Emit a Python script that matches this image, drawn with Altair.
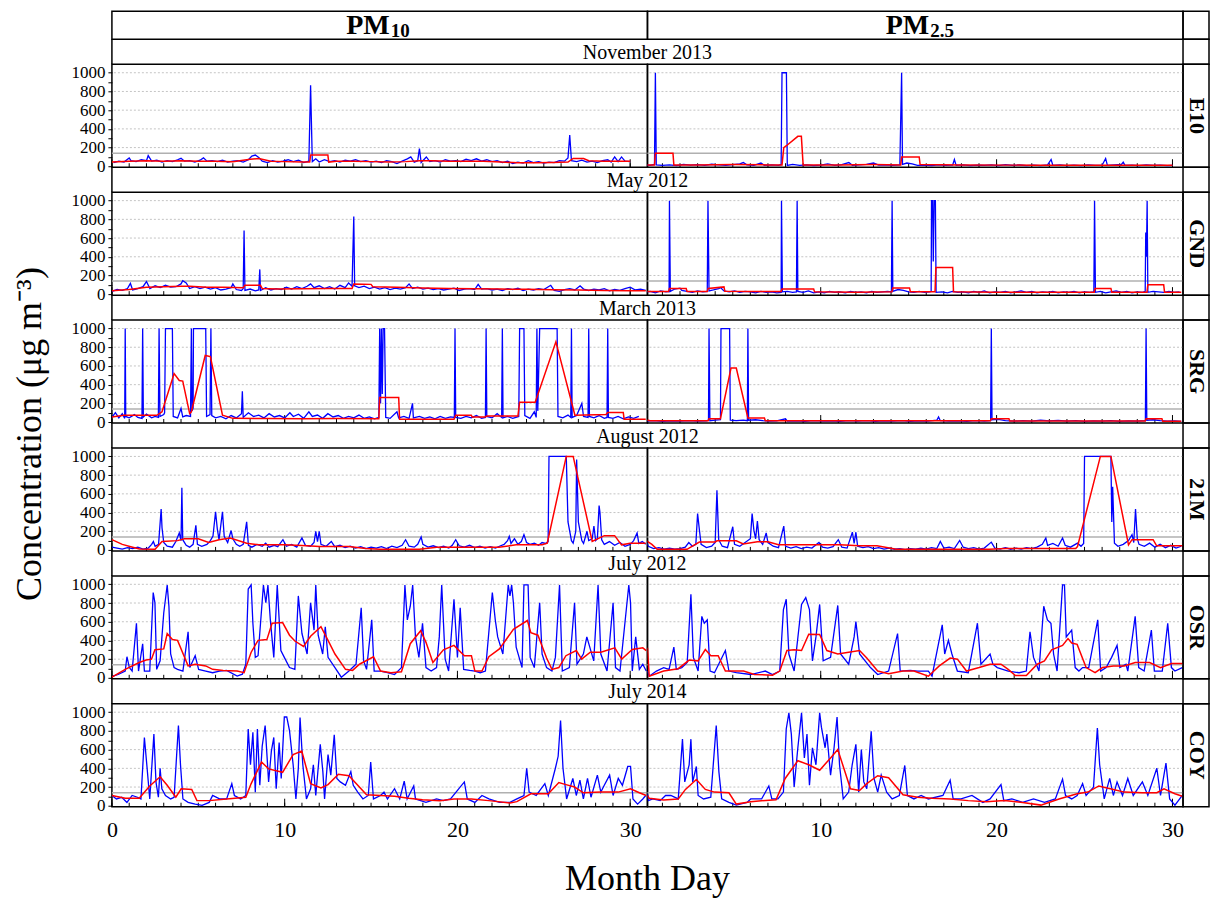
import altair as alt
import pandas as pd

FONT = "Liberation Serif"

SITES = ["E10", "GND", "SRG", "21M", "OSR", "COY"]
MONTHS = ["November 2013", "May 2012", "March 2013", "August 2012", "July 2012", "July 2014"]
POLLUTANTS = [("PM", "10"), ("PM", "2.5")]
Y_TICKS = list(range(0, 1001, 100))
Y_GRID = [200, 400, 600, 800, 1000]
REF_LEVEL = [140]
DAY_TICKS = list(range(0, 31))
MAJOR_DAY_TICKS = [0, 10, 20, 30]
X_LABELS_LEFT = [0, 10, 20, 30]
X_LABELS_RIGHT = [10, 20, 30]
X_TITLE = "Month Day"
Y_TITLE = "Concentration (μg m⁻³)"

# ---------------- data: (day, concentration) ----------------
E10_PM10_HOURLY = [(0.1,40),(0.4,55),(0.7,45),(1.0,90),(1.1,60),(1.4,50),(1.7,70),(2.0,60),(2.1,115),(2.3,55),(2.6,65),(2.9,45),(3.2,60),(3.5,50),(3.8,70),(4.0,85),(4.2,55),(4.5,60),(4.8,45),(5.1,65),(5.3,90),(5.5,55),(5.8,60),(6.1,50),(6.4,65),(6.7,45),(7.0,55),(7.3,60),(7.6,45),(7.9,70),(8.1,110),(8.3,120),(8.5,95),(8.7,55),(9.0,40),(9.3,60),(9.6,45),(9.9,55),(10.2,70),(10.5,50),(10.8,65),(11.1,40),(11.4,55),(11.5,865),(11.6,50),(11.8,80),(12.0,45),(12.3,70),(12.6,50),(12.9,60),(13.2,45),(13.5,65),(13.8,55),(14.1,70),(14.4,50),(14.7,60),(15.0,45),(15.3,55),(15.6,40),(15.9,60),(16.2,50),(16.5,30),(16.8,55),(17.1,80),(17.3,100),(17.5,45),(17.7,60),(17.8,190),(17.9,40),(18.2,100),(18.4,50),(18.7,60),(19.0,45),(19.3,70),(19.6,55),(19.9,60),(20.2,50),(20.5,75),(20.8,60),(21.1,80),(21.4,55),(21.7,70),(22.0,50),(22.3,60),(22.6,40),(22.9,55),(23.2,30),(23.5,45),(23.8,35),(24.1,60),(24.4,40),(24.7,50),(25.0,35),(25.3,45),(25.6,40),(25.9,60),(26.2,55),(26.4,90),(26.5,335),(26.6,60),(26.9,50),(27.2,65),(27.5,45),(27.8,55),(28.1,40),(28.4,60),(28.7,70),(28.9,45),(29.1,100),(29.3,50),(29.5,100),(29.7,55),(30.0,50)]
E10_PM10_DAILY = [(0,45),(1,55),(2,60),(3,55),(4,60),(5,55),(6,55),(7,50),(8,75),(8.5,84),(9.2,55),(10,50),(11,45),(11.45,45),(11.5,120),(12.5,120),(12.55,45),(13,55),(14,55),(15,50),(16,45),(17,50),(17.8,60),(18.5,60),(19.5,55),(20.5,55),(21.5,55),(22.5,45),(23.5,38),(24.5,38),(25.5,40),(26.4,45),(26.7,84),(27.3,84),(27.6,60),(28.5,55),(29.5,55),(30,55)]

E10_PM25_HOURLY = [(0.0,15),(0.3,10),(0.55,20),(0.6,1000),(0.65,15),(1.0,10),(1.4,15),(1.8,8),(2.2,20),(2.6,12),(3.0,18),(3.4,10),(3.8,22),(4.2,15),(4.6,10),(5.0,18),(5.4,25),(5.6,40),(5.8,15),(6.2,10),(6.6,35),(6.8,10),(7.2,15),(7.6,10),(7.75,20),(7.8,1000),(8.05,1000),(8.1,10),(8.4,20),(8.8,10),(9.2,15),(9.6,8),(10.0,12),(10.4,25),(10.8,10),(11.2,18),(11.6,40),(11.8,10),(12.2,15),(12.6,20),(13.0,35),(13.3,12),(13.7,15),(14.1,10),(14.5,15),(14.6,1000),(14.65,20),(14.9,35),(15.2,25),(15.5,10),(15.9,12),(16.3,8),(16.7,15),(17.1,10),(17.5,12),(17.6,73),(17.7,10),(18.1,15),(18.5,8),(18.9,12),(19.3,10),(19.7,15),(20.1,8),(20.5,18),(20.9,10),(21.3,14),(21.7,8),(22.1,12),(22.5,8),(22.9,15),(23.1,73),(23.2,10),(23.6,15),(24.0,8),(24.4,12),(24.8,8),(25.2,15),(25.6,10),(26.0,12),(26.2,84),(26.3,10),(26.7,15),(27.1,20),(27.2,44),(27.3,10),(27.7,12),(28.1,8),(28.5,15),(28.9,10),(29.3,12),(29.7,8),(30.0,10)]
E10_PM25_DAILY = [(0,15),(0.55,15),(0.6,140),(1.6,140),(1.65,15),(3,15),(5,18),(7,15),(7.8,15),(7.9,200),(8.05,220),(8.7,320),(8.9,320),(9.0,15),(11,15),(13,18),(14.55,15),(14.6,100),(15.6,100),(15.65,18),(18,15),(22,12),(26,10),(30,10)]

GND_PM10_HOURLY = [(0.0,30),(0.3,50),(0.6,40),(0.9,60),(1.07,115),(1.2,45),(1.5,60),(1.8,80),(2.0,135),(2.2,60),(2.5,90),(2.8,70),(3.1,95),(3.4,75),(3.7,80),(4.0,110),(4.1,145),(4.3,120),(4.5,60),(4.8,80),(5.1,60),(5.4,75),(5.7,55),(6.0,70),(6.3,45),(6.6,55),(6.9,70),(7.0,110),(7.2,50),(7.5,40),(7.6,60),(7.65,680),(7.7,40),(8.0,55),(8.3,35),(8.5,45),(8.56,265),(8.6,40),(8.9,70),(9.2,45),(9.5,60),(9.8,50),(10.1,75),(10.4,55),(10.7,80),(11.0,60),(11.3,85),(11.5,110),(11.7,70),(12.0,90),(12.3,60),(12.6,80),(12.9,55),(13.2,95),(13.5,70),(13.7,120),(13.9,85),(14.0,830),(14.05,90),(14.3,70),(14.6,85),(14.9,60),(15.2,75),(15.5,55),(15.8,70),(16.1,50),(16.4,65),(16.7,55),(17.0,70),(17.2,110),(17.4,60),(17.7,75),(18.0,55),(18.3,65),(18.6,50),(18.9,60),(19.2,45),(19.5,55),(19.8,65),(20.1,40),(20.4,55),(20.7,60),(21.0,50),(21.2,105),(21.4,55),(21.7,60),(22.0,45),(22.3,55),(22.6,40),(22.9,60),(23.2,50),(23.5,65),(23.8,40),(24.1,55),(24.4,45),(24.7,60),(25.0,50),(25.4,95),(25.6,40),(25.9,30),(26.2,50),(26.5,60),(26.8,45),(27.1,90),(27.3,55),(27.6,40),(27.9,55),(28.2,45),(28.5,60),(28.8,35),(29.1,50),(29.4,40),(29.7,60),(30.0,75),(30.3,45),(30.6,55),(30.9,40)]
GND_PM10_DAILY = [(0,36),(1,50),(2,75),(3,80),(4,84),(4.5,84),(5.5,75),(6.5,73),(7.6,70),(7.7,95),(8.6,95),(8.7,60),(9.5,55),(11,58),(12.5,60),(13.9,62),(14.0,110),(15.0,105),(15.1,80),(16.5,73),(18,65),(19.5,60),(21,58),(22.5,55),(24,52),(25.5,48),(27,45),(28.5,40),(30,36),(30.9,36)]

GND_PM25_HOURLY = [(0.0,20),(0.3,30),(0.6,15),(0.9,35),(1.2,25),(1.38,30),(1.4,1000),(1.45,30),(1.7,55),(2.0,65),(2.1,40),(2.4,30),(2.7,20),(3.0,35),(3.3,25),(3.55,30),(3.59,1000),(3.65,35),(3.9,45),(4.2,60),(4.3,70),(4.5,35),(4.8,25),(5.1,35),(5.4,20),(5.7,30),(6.0,25),(6.3,15),(6.6,30),(6.9,20),(7.2,25),(7.5,15),(7.75,20),(7.77,1000),(7.82,25),(8.1,30),(8.4,20),(8.62,25),(8.66,1000),(8.7,30),(9.0,20),(9.3,35),(9.6,15),(9.9,25),(10.2,15),(10.5,30),(10.8,20),(11.1,25),(11.4,15),(11.7,30),(12.0,20),(12.3,25),(12.6,15),(12.9,30),(13.2,20),(13.5,25),(13.8,30),(14.02,25),(14.06,1000),(14.1,30),(14.4,50),(14.7,40),(15.0,25),(15.3,20),(15.6,30),(15.9,20),(16.2,25),(16.28,30),(16.3,1000),(16.36,1000),(16.4,350),(16.45,1000),(16.52,1000),(16.56,20),(16.9,25),(17.2,15),(17.5,30),(17.8,20),(18.1,25),(18.4,15),(18.7,30),(19.0,20),(19.3,35),(19.6,15),(19.9,25),(20.2,20),(20.5,30),(20.8,15),(21.1,25),(21.4,35),(21.7,20),(22.0,30),(22.3,15),(22.6,25),(22.9,20),(23.2,30),(23.5,15),(23.8,25),(24.1,20),(24.4,30),(24.7,15),(25.0,25),(25.3,20),(25.53,25),(25.57,1000),(25.62,20),(25.9,30),(26.2,15),(26.5,25),(26.8,35),(27.1,20),(27.4,30),(27.7,15),(28.0,25),(28.3,20),(28.45,30),(28.48,660),(28.52,400),(28.56,1000),(28.6,20),(28.9,30),(29.2,25),(29.5,20),(29.8,30),(30.1,20),(30.4,25)]
GND_PM25_DAILY = [(0,28),(1.35,28),(1.4,62),(2.35,62),(2.4,30),(3.55,30),(3.6,62),(4.5,78),(4.55,32),(6,30),(7.75,30),(7.8,55),(9.6,55),(9.65,25),(12,22),(14.05,25),(14.1,65),(15.05,65),(15.1,25),(16.5,25),(16.55,285),(17.5,285),(17.55,25),(20,22),(23,22),(25.55,22),(25.6,62),(26.5,62),(26.55,22),(28.55,22),(28.6,102),(29.5,102),(29.55,20),(30.5,20)]

SRG_PM10_HOURLY = [(0.0,50),(0.2,100),(0.4,45),(0.6,90),(0.74,40),(0.77,1000),(0.8,60),(1.0,45),(1.3,80),(1.5,50),(1.74,40),(1.78,1000),(1.82,55),(2.0,85),(2.3,45),(2.5,60),(2.69,50),(2.73,1000),(2.78,60),(3.0,80),(3.05,100),(3.1,1000),(3.5,1000),(3.55,60),(3.8,45),(4.0,146),(4.1,55),(4.3,70),(4.55,60),(4.6,1000),(4.64,120),(4.7,150),(4.72,1000),(5.43,1000),(5.48,60),(5.68,80),(5.73,1000),(5.78,70),(6.0,45),(6.3,60),(6.6,35),(6.9,70),(7.2,45),(7.5,90),(7.55,330),(7.6,50),(7.9,100),(8.2,60),(8.5,75),(8.8,45),(9.1,90),(9.4,55),(9.7,70),(10.0,45),(10.3,100),(10.5,60),(10.8,85),(11.1,40),(11.4,110),(11.6,60),(11.9,75),(12.2,40),(12.5,90),(12.8,55),(13.1,70),(13.4,40),(13.7,60),(14.0,45),(14.3,75),(14.6,40),(14.9,55),(15.2,35),(15.45,50),(15.5,1000),(15.55,200),(15.6,1000),(15.65,300),(15.7,1000),(15.78,1000),(15.85,50),(16.1,40),(16.5,110),(16.6,45),(16.9,60),(17.2,40),(17.4,200),(17.45,45),(17.8,60),(18.1,40),(18.4,55),(18.7,35),(19.0,60),(19.3,40),(19.6,55),(19.82,50),(19.86,1000),(19.9,50),(20.2,40),(20.5,60),(20.8,45),(21.1,70),(21.4,40),(21.62,50),(21.66,1000),(21.7,60),(22.0,45),(22.3,90),(22.56,50),(22.6,1000),(22.64,45),(22.9,60),(23.2,40),(23.55,60),(23.6,1000),(23.85,1000),(23.9,70),(24.2,40),(24.45,110),(24.56,50),(24.6,1000),(24.65,120),(24.76,1000),(25.77,1000),(25.82,60),(26.1,45),(26.4,75),(26.56,50),(26.6,1000),(26.64,50),(26.9,70),(27.2,200),(27.3,60),(27.56,50),(27.6,1000),(27.64,60),(27.9,45),(28.2,70),(28.5,40),(28.66,50),(28.7,1000),(28.74,50),(29.0,40),(29.3,60),(29.6,35),(29.9,55),(30.2,40),(30.5,60)]
SRG_PM10_DAILY = [(0,55),(0.7,73),(1.5,73),(2.6,73),(2.9,110),(3.6,518),(3.9,445),(4.1,438),(4.5,91),(4.6,110),(5.4,712),(5.7,700),(6.4,73),(7,40),(9,38),(11,35),(13,38),(15.45,36),(15.5,262),(16.6,262),(16.65,30),(18,30),(19.8,30),(19.9,73),(20.8,73),(20.85,55),(21.6,55),(21.7,65),(23.5,65),(23.6,212),(24.5,212),(25.7,858),(26.8,73),(28.6,80),(28.7,102),(29.6,102),(29.65,30),(30.9,30)]

SRG_PM25_HOURLY = [(0.0,10),(0.5,15),(1.0,8),(1.5,12),(2.0,10),(2.5,15),(3.0,10),(3.5,12),(3.62,20),(3.65,1000),(3.7,15),(4.0,20),(4.3,25),(4.33,1000),(4.82,1000),(4.86,20),(5.2,15),(5.6,20),(5.83,15),(5.86,1000),(5.9,20),(6.3,25),(6.7,15),(7.1,10),(7.5,12),(8.0,35),(8.1,10),(8.6,12),(9.1,8),(9.6,15),(10.1,10),(10.6,12),(11.1,8),(11.6,15),(12.1,10),(12.6,15),(13.1,8),(13.6,12),(14.1,10),(14.6,15),(15.1,8),(15.6,12),(16.1,10),(16.6,20),(16.7,55),(16.8,15),(17.3,10),(17.8,12),(18.3,8),(18.8,15),(19.3,10),(19.66,15),(19.7,1000),(19.74,25),(20.1,30),(20.5,15),(21.0,10),(21.5,15),(22.0,10),(22.5,20),(23.0,12),(23.5,18),(24.0,10),(24.5,15),(25.0,8),(25.5,12),(26.0,10),(26.5,15),(27.0,8),(27.5,12),(28.0,10),(28.46,15),(28.5,1000),(28.54,20),(28.9,25),(29.3,15),(29.7,10),(30.1,12),(30.5,8)]
SRG_PM25_DAILY = [(0,25),(0.3,15),(3.6,15),(3.65,36),(4.3,36),(4.9,577),(5.2,577),(5.86,44),(6.8,44),(6.85,15),(19.65,15),(19.7,36),(20.7,36),(20.75,12),(28.45,12),(28.5,36),(29.4,36),(29.45,10),(30.5,10)]

M21_PM10_HOURLY = [(0.0,30),(0.3,20),(0.6,10),(0.9,25),(1.2,15),(1.5,30),(1.8,10),(2.1,20),(2.3,60),(2.4,90),(2.5,40),(2.7,60),(2.85,438),(2.9,237),(3.0,80),(3.2,40),(3.5,30),(3.7,90),(3.9,182),(4.0,100),(4.05,664),(4.1,110),(4.3,50),(4.5,30),(4.7,60),(4.86,263),(4.95,60),(5.2,40),(5.5,60),(5.7,100),(5.85,150),(6.0,409),(6.1,226),(6.2,110),(6.4,409),(6.5,146),(6.7,80),(6.9,208),(7.0,120),(7.2,60),(7.4,40),(7.6,60),(7.8,300),(7.9,50),(8.1,30),(8.4,60),(8.7,40),(8.9,73),(9.1,30),(9.4,50),(9.6,35),(9.9,110),(10.1,40),(10.4,60),(10.7,30),(11.0,128),(11.2,50),(11.5,40),(11.7,80),(11.8,200),(11.9,90),(12.0,200),(12.1,60),(12.4,40),(12.7,91),(12.9,35),(13.2,50),(13.5,25),(13.8,40),(14.1,20),(14.4,35),(14.7,15),(15.0,30),(15.3,20),(15.6,35),(15.9,15),(16.2,40),(16.5,25),(16.8,50),(17.0,110),(17.2,40),(17.5,30),(17.7,60),(17.9,139),(18.0,60),(18.3,30),(18.6,45),(18.9,25),(19.2,40),(19.5,20),(19.7,50),(19.9,110),(20.1,45),(20.4,30),(20.7,50),(21.0,25),(21.3,40),(21.6,20),(21.9,35),(22.2,20),(22.5,45),(22.7,60),(22.9,100),(23.0,146),(23.1,70),(23.3,120),(23.5,60),(23.7,90),(23.85,164),(24.0,80),(24.2,60),(24.45,73),(24.7,50),(24.9,80),(25.1,70),(25.25,90),(25.3,1000),(26.3,1000),(26.4,300),(26.6,100),(26.7,73),(26.85,200),(26.9,967),(27.0,300),(27.2,100),(27.3,70),(27.5,200),(27.6,100),(27.8,120),(27.9,255),(28.0,100),(28.1,120),(28.2,474),(28.25,400),(28.35,110),(28.5,60),(28.8,90),(29.1,50),(29.4,80),(29.7,40),(30.0,60),(30.2,100),(30.4,182),(30.5,70),(30.7,90),(30.9,60)]
M21_PM10_DAILY = [(0,110),(0.6,60),(1.2,30),(1.6,10),(2.5,8),(2.9,91),(3.8,100),(4.2,120),(5.0,120),(5.6,80),(6.2,110),(6.85,128),(7.8,73),(8.5,55),(10.0,55),(11.3,45),(12,36),(13.7,36),(14.7,15),(15.5,8),(17.8,7),(18.8,30),(20.8,30),(22.4,30),(23.4,55),(24.9,55),(25.2,73),(26.3,1000),(26.7,1000),(27.8,91),(28.5,153),(29.1,153),(29.5,55),(30.0,73),(30.9,73)]

M21_PM25_HOURLY = [(0.0,128),(0.2,40),(0.5,15),(0.8,25),(1.1,10),(1.4,20),(1.7,8),(2.0,15),(2.3,30),(2.5,80),(2.7,40),(2.9,60),(3.0,390),(3.1,219),(3.2,60),(3.5,25),(3.8,40),(4.0,80),(4.1,638),(4.2,110),(4.4,40),(4.7,25),(5.0,248),(5.1,60),(5.4,40),(5.7,80),(6.0,120),(6.1,390),(6.2,212),(6.3,120),(6.4,310),(6.5,110),(6.7,60),(6.9,182),(7.0,80),(7.3,40),(7.6,25),(7.9,255),(8.0,40),(8.3,20),(8.6,35),(8.9,15),(9.2,30),(9.5,20),(9.9,80),(10.1,30),(10.4,20),(10.7,35),(11.0,110),(11.2,30),(11.5,20),(11.8,190),(11.9,70),(12.0,190),(12.1,40),(12.4,25),(12.7,35),(13.0,15),(13.3,25),(13.6,10),(13.9,20),(14.2,8),(14.5,15),(14.8,5),(15.1,15),(15.4,8),(15.7,20),(16.0,10),(16.3,25),(16.6,15),(16.8,91),(17.0,20),(17.3,30),(17.6,15),(17.9,102),(18.1,30),(18.4,15),(18.7,25),(19.0,10),(19.3,20),(19.7,84),(19.9,20),(20.2,10),(20.5,25),(20.8,8),(21.1,20),(21.4,10),(21.7,25),(22.0,15),(22.3,30),(22.6,60),(22.8,128),(22.9,50),(23.2,70),(23.5,40),(23.75,128),(23.9,50),(24.2,30),(24.6,73),(24.8,40),(24.95,70),(25.0,1000),(26.5,1000),(26.55,300),(26.6,675),(26.7,73),(26.9,40),(27.2,60),(27.5,100),(27.7,164),(27.8,80),(27.9,438),(28.0,120),(28.1,60),(28.4,40),(28.7,73),(29.0,30),(29.3,60),(29.6,25),(29.9,50),(30.2,20),(30.5,40)]
M21_PM25_DAILY = [(0,110),(0.4,60),(0.7,7),(2.4,7),(3.1,84),(4.0,84),(4.1,98),(5.2,98),(5.6,65),(6.4,88),(7.0,88),(7.6,55),(11.1,55),(12.2,44),(13.2,44),(14.3,7),(19.6,7),(20.5,15),(24.5,15),(24.6,36),(25.9,1000),(26.5,1000),(27.5,55),(27.7,110),(28.9,110),(29.1,44),(30.6,44)]

OSR_PM10_HOURLY = [(0.06,18),(0.36,36),(0.77,73),(0.87,226),(1.01,110),(1.17,73),(1.42,584),(1.54,73),(1.78,365),(1.88,73),(2.19,73),(2.39,912),(2.49,803),(2.59,91),(2.79,182),(3.0,693),(3.2,993),(3.3,766),(3.4,255),(3.6,110),(3.8,91),(4.11,73),(4.41,493),(4.51,110),(4.82,237),(5.02,91),(5.43,73),(5.83,55),(6.23,73),(6.64,80),(7.25,20),(7.55,40),(7.75,146),(7.89,949),(8.06,993),(8.16,584),(8.3,219),(8.46,237),(8.77,993),(8.91,803),(9.03,993),(9.17,620),(9.37,219),(9.57,993),(9.78,292),(9.98,219),(10.28,110),(10.59,91),(10.79,876),(11.0,474),(11.3,255),(11.5,803),(11.7,511),(11.8,993),(11.94,456),(12.2,255),(12.35,547),(12.51,219),(12.91,110),(13.28,7),(13.72,73),(14.13,146),(14.43,748),(14.57,182),(14.74,91),(15.04,620),(15.18,73),(15.55,73),(15.95,55),(16.36,36),(16.76,110),(16.96,993),(17.1,620),(17.27,766),(17.41,993),(17.57,438),(17.77,219),(17.98,584),(18.18,110),(18.48,73),(18.79,110),(18.95,438),(19.09,993),(19.29,200),(19.49,73),(19.8,840),(20.0,219),(20.16,748),(20.36,91),(20.71,80),(21.01,73),(21.32,55),(21.62,73),(22.02,912),(22.19,620),(22.33,438),(22.63,255),(22.94,993),(23.04,876),(23.14,993),(23.24,803),(23.4,328),(23.74,110),(23.85,993),(24.09,993),(24.21,219),(24.45,110),(24.76,803),(24.9,255),(25.16,110),(25.47,73),(25.67,219),(25.91,993),(26.07,73),(26.48,110),(26.78,803),(26.92,146),(27.29,255),(27.49,438),(27.89,182),(28.14,993),(28.3,255),(28.66,73),(29.01,803),(29.15,110),(29.41,73),(29.92,993),(30.02,803),(30.12,73),(30.32,438),(30.53,91),(30.73,146),(30.93,73)]
OSR_PM10_DAILY = [(0,7),(0.77,91),(1.58,164),(1.98,190),(2.29,200),(2.49,300),(3.0,310),(3.2,474),(3.5,409),(3.8,401),(4.41,128),(4.82,146),(5.43,128),(5.83,91),(6.44,80),(7.25,73),(7.65,55),(8.06,274),(8.46,401),(8.97,409),(9.27,584),(9.88,591),(10.28,456),(10.59,394),(11.09,336),(11.5,445),(12.1,547),(12.51,401),(12.91,255),(13.52,91),(13.93,80),(14.33,146),(15.14,226),(15.55,73),(16.15,55),(16.76,65),(17.27,365),(17.87,504),(18.18,380),(18.58,164),(19.19,300),(19.8,347),(20.4,237),(20.81,237),(21.01,73),(21.42,73),(21.82,226),(22.43,310),(23.24,518),(24.05,613),(24.25,482),(24.66,456),(25.16,212),(25.47,91),(25.87,110),(26.28,237),(26.88,292),(27.19,200),(27.69,274),(28.3,274),(29.11,321),(29.51,200),(30.12,303),(30.73,321),(30.93,292)]

OSR_PM25_HOURLY = [(0.15,73),(0.25,18),(0.66,73),(1.07,110),(1.38,91),(1.65,328),(1.79,91),(2.1,110),(2.41,164),(2.62,894),(2.76,219),(3.03,73),(3.24,657),(3.38,584),(3.55,620),(3.71,73),(3.96,55),(4.58,292),(4.78,73),(5.2,55),(6.02,36),(6.85,73),(7.26,36),(7.67,73),(7.88,730),(8.04,840),(8.19,255),(8.49,73),(8.91,785),(9.15,858),(9.36,730),(9.53,182),(9.73,438),(9.94,785),(10.14,182),(10.56,219),(10.97,774),(11.13,255),(11.59,146),(11.9,438),(12.0,602),(12.21,255),(12.83,110),(13.24,36),(13.86,73),(14.37,474),(14.52,73),(15.09,80),(15.51,73),(16.12,73),(16.33,18),(16.91,566),(17.05,255),(17.26,401),(17.46,255),(17.77,73),(18.39,55),(18.91,584),(19.11,146),(19.63,255),(19.79,146),(20.04,110),(20.66,73),(21.28,55),(21.69,73),(21.9,493),(22.1,219),(22.41,73),(22.68,766),(22.89,620),(23.09,584),(23.24,255),(23.44,73),(23.75,993),(23.86,993),(23.96,438),(24.27,511),(24.47,110),(24.68,73),(24.89,110),(25.24,110),(25.75,620),(25.92,73),(26.23,110),(26.54,219),(26.85,347),(27.01,110),(27.36,146),(27.46,73),(27.88,657),(28.08,110),(28.39,73),(28.8,511),(28.97,73),(29.42,73),(29.73,584),(29.94,110),(30.14,73),(30.56,110)]
OSR_PM25_DAILY = [(0.15,321),(0.25,18),(1.07,73),(1.9,98),(2.52,190),(3.03,182),(3.44,303),(3.75,237),(4.17,237),(4.58,73),(5.61,73),(6.23,36),(7.26,29),(7.67,73),(8.08,292),(8.49,300),(8.91,292),(9.32,467),(9.94,463),(10.35,292),(10.97,255),(11.59,274),(12.21,292),(12.62,212),(13.24,73),(13.86,44),(14.68,73),(15.3,73),(16.12,18),(16.74,128),(17.36,212),(17.77,200),(18.29,73),(19.01,110),(19.63,146),(20.25,146),(20.66,91),(21.07,25),(21.69,25),(22.31,146),(22.72,182),(23.13,300),(23.75,347),(24.06,420),(24.27,372),(24.58,358),(25.09,110),(25.6,55),(26.02,110),(26.64,128),(27.26,128),(27.88,164),(28.7,164),(29.32,110),(29.94,153),(30.6,153)]

COY_PM10_HOURLY = [(0.0,110),(0.26,73),(0.57,91),(0.87,36),(1.17,110),(1.48,91),(1.68,73),(1.88,730),(2.02,438),(2.19,73),(2.43,766),(2.55,255),(2.69,91),(2.79,401),(2.89,182),(3.1,110),(3.4,73),(3.6,91),(3.85,858),(3.97,438),(4.11,73),(4.41,36),(4.82,18),(5.22,5),(5.63,36),(5.83,110),(6.23,73),(6.64,73),(6.94,237),(7.09,110),(7.45,73),(7.75,110),(7.89,821),(8.02,438),(8.16,785),(8.3,146),(8.42,821),(8.56,219),(8.7,639),(8.87,858),(9.07,255),(9.23,584),(9.37,730),(9.51,182),(9.68,675),(9.8,292),(9.98,949),(10.12,949),(10.28,803),(10.49,438),(10.65,73),(10.79,401),(10.89,942),(11.05,438),(11.26,73),(11.5,182),(11.66,438),(11.8,110),(12.06,657),(12.21,365),(12.31,73),(12.51,547),(12.67,328),(12.87,759),(13.02,292),(13.22,255),(13.52,219),(13.83,365),(13.97,219),(14.23,146),(14.53,73),(14.84,110),(14.98,467),(15.14,73),(15.55,110),(15.75,146),(15.95,73),(16.36,182),(16.66,73),(16.92,263),(17.09,73),(17.47,212),(17.57,73),(18.18,36),(18.79,73),(19.19,55),(19.6,73),(20.4,255),(20.57,73),(21.01,36),(21.42,110),(21.82,73),(22.43,36),(23.04,36),(23.44,73),(23.85,110),(24.01,401),(24.15,146),(24.56,110),(25.06,237),(25.26,110),(25.67,401),(25.83,529),(25.97,912),(26.11,401),(26.32,73),(26.68,292),(26.88,110),(27.09,274),(27.29,73),(27.53,292),(27.73,91),(28.1,328),(28.3,146),(28.5,219),(28.81,328),(29.01,110),(29.31,292),(29.55,219),(29.86,420),(30.02,420),(30.16,73),(30.43,18),(30.73,73),(30.9,110)]
COY_PM10_DAILY = [(0,110),(0.77,80),(1.58,80),(2.19,212),(2.79,310),(3.2,219),(3.7,91),(4.01,182),(4.62,175),(4.92,55),(5.63,55),(6.64,73),(7.75,91),(8.06,237),(8.66,467),(9.07,394),(9.88,358),(10.49,547),(10.99,584),(11.5,237),(12.1,190),(12.51,226),(13.11,336),(13.72,321),(14.74,117),(15.55,110),(16.36,102),(17.17,80),(17.98,65),(18.99,55),(19.8,73),(20.81,73),(21.82,55),(23.04,30),(23.44,44),(24.25,128),(25.26,128),(25.87,248),(26.28,226),(26.78,200),(27.29,139),(28.3,146),(29.31,146),(30.02,182),(30.53,139),(30.93,110)]

COY_PM25_HOURLY = [(0.15,128),(0.2,55),(0.45,73),(0.87,55),(1.18,110),(1.48,110),(1.9,73),(2.14,712),(2.27,255),(2.52,438),(2.62,712),(2.72,255),(2.93,420),(3.03,110),(3.34,73),(3.75,91),(4.06,858),(4.21,365),(4.37,73),(4.78,36),(5.2,7),(5.81,36),(6.02,73),(6.33,73),(6.64,73),(7.05,212),(7.22,73),(7.57,73),(7.88,146),(8.04,821),(8.19,993),(8.33,766),(8.49,200),(8.7,620),(8.91,993),(9.07,511),(9.22,766),(9.36,219),(9.53,620),(9.73,438),(9.94,993),(10.04,840),(10.25,620),(10.35,766),(10.56,328),(10.76,620),(10.93,949),(11.07,438),(11.28,73),(11.59,146),(11.79,438),(12.0,657),(12.16,146),(12.31,602),(12.45,255),(12.62,182),(12.87,796),(13.03,292),(13.24,146),(13.44,328),(13.75,146),(14.06,73),(14.47,110),(14.78,431),(14.93,110),(15.3,73),(15.71,110),(16.12,73),(16.95,110),(17.36,274),(17.53,73),(17.98,73),(18.6,110),(19.22,36),(19.63,73),(20.25,226),(20.41,55),(20.87,73),(21.48,36),(22.1,73),(22.72,36),(23.34,73),(23.75,285),(23.92,110),(24.27,73),(24.58,110),(24.89,237),(25.09,110),(25.51,200),(25.73,832),(25.86,438),(26.12,73),(26.43,292),(26.64,110),(26.85,255),(27.16,110),(27.46,292),(27.77,110),(28.29,255),(28.6,110),(29.11,401),(29.32,110),(29.63,456),(29.84,73),(30.14,7),(30.56,110)]
COY_PM25_DAILY = [(0.15,110),(0.25,80),(1.07,62),(1.9,73),(2.31,175),(2.93,281),(3.44,175),(3.96,146),(4.78,139),(5.2,18),(6.02,44),(7.46,65),(7.98,292),(8.7,482),(9.32,438),(9.94,380),(10.56,511),(10.97,602),(11.69,182),(12.21,164),(12.62,237),(13.24,321),(13.86,300),(14.68,117),(15.51,91),(16.33,80),(17.36,73),(18.39,55),(19.42,44),(20.45,55),(21.48,36),(22.52,7),(23.55,73),(24.58,128),(25.19,146),(25.81,212),(26.64,175),(27.26,146),(28.29,139),(29.11,139),(29.52,182),(30.14,128),(30.56,102)]

PANEL_DATA = [
    [(E10_PM10_HOURLY, E10_PM10_DAILY), (E10_PM25_HOURLY, E10_PM25_DAILY)],
    [(GND_PM10_HOURLY, GND_PM10_DAILY), (GND_PM25_HOURLY, GND_PM25_DAILY)],
    [(SRG_PM10_HOURLY, SRG_PM10_DAILY), (SRG_PM25_HOURLY, SRG_PM25_DAILY)],
    [(M21_PM10_HOURLY, M21_PM10_DAILY), (M21_PM25_HOURLY, M21_PM25_DAILY)],
    [(OSR_PM10_HOURLY, OSR_PM10_DAILY), (OSR_PM25_HOURLY, OSR_PM25_DAILY)],
    [(COY_PM10_HOURLY, COY_PM10_DAILY), (COY_PM25_HOURLY, COY_PM25_DAILY)],
]

# ---------------- layout ----------------
PW, PH = 536, 103      # panel
SH = 25                # month strip height
HH = 28                # header height
SW = 26                # site strip width
XT = 86                # x-title row height
XDOM_LEFT = [0, 31]
XDOM_RIGHT = [0.15, 30.6]
YDOM = [-10, 1090]
NOSTROKE = alt.ViewBackground(stroke="transparent")


def to_df(pairs):
    return pd.DataFrame({"day": [p[0] for p in pairs],
                         "conc": [p[1] for p in pairs],
                         "i": list(range(len(pairs)))})


def panel(hourly, daily, left, bottom):
    xs = alt.Scale(domain=XDOM_LEFT if left else XDOM_RIGHT, nice=False, zero=False)
    ys = alt.Scale(domain=YDOM, nice=False, zero=False)
    if bottom:
        xaxis = alt.Axis(values=X_LABELS_LEFT if left else X_LABELS_RIGHT, ticks=False,
                         domain=False, grid=False, title=None, labelFont=FONT,
                         labelFontSize=22, labelFontWeight="normal", labelPadding=13,
                         labelColor="black", labelFlush=False, labelOverlap=False, format="d")
    else:
        xaxis = None
    if left:
        yaxis = alt.Axis(values=Y_TICKS, labelExpr="datum.value % 200 == 0 ? datum.label : ''",
                         format="d", domain=False, grid=False, title=None, tickSize=4,
                         tickColor="black", labelFont=FONT, labelFontSize=17,
                         labelFontWeight="normal", labelPadding=3, labelColor="black",
                         labelOverlap=False, labelFlush=False)
    else:
        yaxis = None
    ticks = DAY_TICKS if left else [d for d in DAY_TICKS if d >= 1]

    grid = alt.Chart(pd.DataFrame({"g": Y_GRID})).mark_rule(
        color="#c4c4c4", strokeDash=[2, 2], strokeWidth=1
    ).encode(y=alt.Y("g:Q", scale=ys, axis=yaxis))
    ref = alt.Chart(pd.DataFrame({"r": REF_LEVEL})).mark_rule(
        color="#b0b0b0", strokeWidth=1.5
    ).encode(y=alt.Y("r:Q", scale=ys, axis=yaxis))
    minor = alt.Chart(pd.DataFrame({"d": ticks})).mark_rule(color="black", strokeWidth=1).encode(
        x=alt.X("d:Q", scale=xs, axis=xaxis), y=alt.value(PH), y2=alt.value(PH - 4))
    major = alt.Chart(pd.DataFrame({"d": [d for d in MAJOR_DAY_TICKS if d in ticks]})).mark_rule(
        color="black", strokeWidth=1).encode(
        x=alt.X("d:Q", scale=xs, axis=xaxis), y=alt.value(PH), y2=alt.value(PH - 8))
    blue = alt.Chart(to_df(hourly)).mark_line(color="#0000ff", strokeWidth=1.3, clip=True).encode(
        x=alt.X("day:Q", scale=xs, axis=xaxis), y=alt.Y("conc:Q", scale=ys, axis=yaxis),
        order=alt.Order("i:Q"))
    red = alt.Chart(to_df(daily)).mark_line(color="#ff0000", strokeWidth=1.5, clip=True).encode(
        x=alt.X("day:Q", scale=xs, axis=xaxis), y=alt.Y("conc:Q", scale=ys, axis=yaxis),
        order=alt.Order("i:Q"))
    return alt.layer(grid, ref, minor, major, blue, red).properties(width=PW, height=PH)


def text_layer(text, x, y, size, weight="normal", angle=0, align="center"):
    return alt.Chart(pd.DataFrame({"t": [text]})).mark_text(
        font=FONT, fontSize=size, fontWeight=weight, angle=angle, align=align,
        baseline="middle", color="black"
    ).encode(text="t:N", x=alt.value(x), y=alt.value(y))


def header_cell(main, sub):
    cx = PW / 2
    off = 10 if len(sub) == 2 else 14
    return alt.layer(
        text_layer(main, cx + off, HH / 2 + 1, 28, "bold", align="right"),
        text_layer(sub, cx + off + 1, HH / 2 + 6, 19, "bold", align="left"),
    ).properties(width=PW, height=HH)


def blank(w, h, stroke=True):
    c = text_layer("", w / 2, h / 2, 10).properties(width=w, height=h)
    if not stroke:
        c = c.properties(view=NOSTROKE)
    return c


def left_edge(h):
    return alt.Chart(pd.DataFrame({"e": [0]})).mark_rule(color="black", strokeWidth=1.5).encode(
        x=alt.value(0), y=alt.value(0), y2=alt.value(h))


cells = [header_cell(*POLLUTANTS[0]), header_cell(*POLLUTANTS[1]), blank(SW, HH)]
n = len(SITES)
for r in range(n):
    # month strip spanning both panel columns (text centred on the column boundary)
    strip_left = alt.layer(left_edge(SH), text_layer(MONTHS[r], PW, SH / 2 + 1, 20)).properties(
        width=PW, height=SH, view=NOSTROKE)
    cells += [strip_left, blank(PW, SH, stroke=False), blank(SW, SH)]
    (h1, d1), (h2, d2) = PANEL_DATA[r]
    cells += [panel(h1, d1, True, r == n - 1), panel(h2, d2, False, r == n - 1),
              text_layer(SITES[r], SW / 2 + 1, PH / 2, 22, "bold", angle=90).properties(width=SW, height=PH)]

xtitle = text_layer(X_TITLE, PW, 72, 36).properties(width=PW, height=XT, view=NOSTROKE)
cells += [xtitle, blank(PW, XT, stroke=False), blank(SW, XT, stroke=False)]

chart = alt.concat(*cells, columns=3, spacing=0, bounds="flush").properties(
    title=alt.TitleParams(Y_TITLE, orient="left", anchor="middle", fontSize=36, font=FONT,
                          fontWeight="normal", color="black", offset=21, dx=20),
    padding={"left": 4, "top": 2, "right": 0, "bottom": 0},
).configure_view(stroke="black", strokeWidth=1.5)

chart.save("out.html", embed_options={"renderer": "svg", "actions": False})
